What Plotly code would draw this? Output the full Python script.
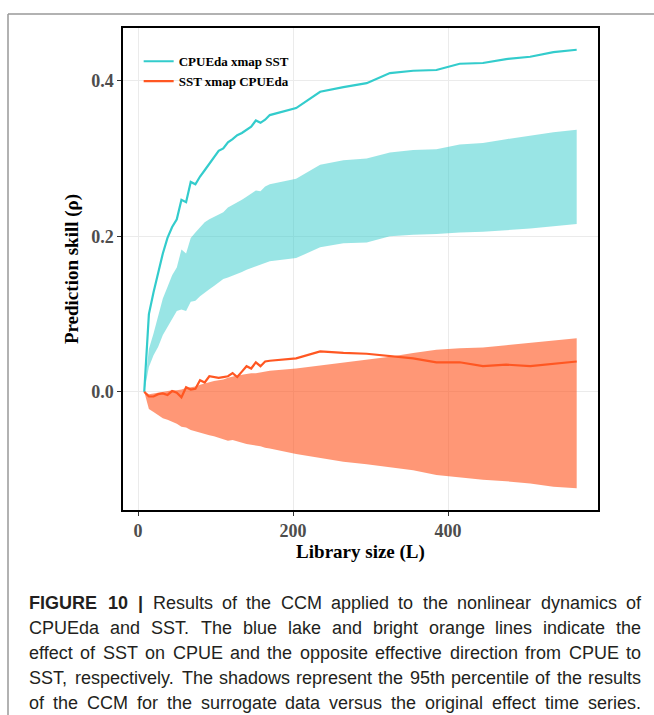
import plotly.graph_objects as go

# Library sizes (L)
lib_size = [8, 14, 20, 26, 32, 38, 44, 50, 56, 62, 68, 74, 80, 86, 92, 98, 104, 110, 116, 122,
            128, 134, 140, 146, 152, 158, 164, 170, 204, 235, 265, 295, 325, 355, 385, 415,
            445, 475, 506, 536, 566]

# CPUEda xmap SST (prediction skill)
cpue_xmap_sst = [0, 0.100, 0.128, 0.152, 0.178, 0.198, 0.212, 0.222, 0.247, 0.244, 0.270, 0.267,
                 0.277, 0.285, 0.293, 0.302, 0.310, 0.313, 0.321, 0.325, 0.330, 0.333, 0.337,
                 0.341, 0.349, 0.346, 0.350, 0.356, 0.365, 0.386, 0.392, 0.397, 0.410, 0.413,
                 0.414, 0.422, 0.423, 0.428, 0.431, 0.437, 0.440]
cpue_upper = [0, 0.055, 0.075, 0.097, 0.120, 0.135, 0.150, 0.160, 0.183, 0.178, 0.198, 0.205,
              0.212, 0.218, 0.222, 0.225, 0.229, 0.231, 0.237, 0.240, 0.244, 0.247, 0.251,
              0.255, 0.259, 0.258, 0.264, 0.267, 0.274, 0.292, 0.298, 0.300, 0.308, 0.311,
              0.312, 0.318, 0.320, 0.325, 0.330, 0.334, 0.337]
cpue_lower = [0, 0.032, 0.047, 0.058, 0.073, 0.084, 0.094, 0.104, 0.106, 0.104, 0.116, 0.117,
              0.123, 0.128, 0.132, 0.136, 0.140, 0.145, 0.147, 0.149, 0.151, 0.154, 0.157,
              0.159, 0.162, 0.164, 0.166, 0.168, 0.172, 0.186, 0.191, 0.192, 0.200, 0.202,
              0.203, 0.205, 0.206, 0.208, 0.210, 0.213, 0.216]

# SST xmap CPUEda
sst_xmap_cpue = [0, -0.006, -0.006, -0.003, -0.002, -0.004, 0.001, -0.001, -0.007, 0.006, 0.003,
                 0.004, 0.015, 0.012, 0.020, 0.019, 0.018, 0.019, 0.020, 0.024, 0.019, 0.026,
                 0.033, 0.030, 0.038, 0.033, 0.039, 0.040, 0.043, 0.052, 0.050, 0.049, 0.046,
                 0.043, 0.038, 0.038, 0.033, 0.035, 0.033, 0.036, 0.039]
sst_upper = [0, -0.003, -0.002, -0.001, 0.000, 0.001, 0.002, 0.002, 0.003, 0.005, 0.006, 0.007,
             0.009, 0.011, 0.013, 0.014, 0.015, 0.016, 0.018, 0.020, 0.021, 0.022, 0.023, 0.024,
             0.024, 0.025, 0.026, 0.027, 0.030, 0.034, 0.038, 0.041, 0.045, 0.050, 0.054,
             0.056, 0.057, 0.060, 0.063, 0.066, 0.069]
sst_lower = [0, -0.022, -0.026, -0.030, -0.034, -0.036, -0.038, -0.041, -0.045, -0.046, -0.049,
             -0.051, -0.053, -0.054, -0.056, -0.057, -0.059, -0.061, -0.063, -0.062, -0.064,
             -0.066, -0.067, -0.068, -0.069, -0.070, -0.072, -0.073, -0.080, -0.085, -0.090,
             -0.093, -0.097, -0.101, -0.107, -0.110, -0.113, -0.115, -0.118, -0.122, -0.124]

x_ticks = [0, 200, 400]
y_ticks = [0.0, 0.2, 0.4]

caption_lines = [
    "FIGURE 10 | Results of the CCM applied to the nonlinear dynamics of",
    "CPUEda and SST. The blue lake and bright orange lines indicate the",
    "effect of SST on CPUE and the opposite effective direction from CPUE to",
    "SST, respectively. The shadows represent the 95th percentile of the results",
    "of the CCM for the surrogate data versus the original effect time series.",
]
bold_words = {"FIGURE", "10", "|"}

CYAN = "#33CCCC"
ORANGE = "#FF5722"

fig = go.Figure()
fig.add_trace(go.Scatter(x=lib_size, y=cpue_lower, mode="lines", line=dict(width=0),
                         showlegend=False, hoverinfo="skip"))
fig.add_trace(go.Scatter(x=lib_size, y=cpue_upper, mode="lines", line=dict(width=0),
                         fill="tonexty", fillcolor="rgba(51,204,204,0.5)",
                         showlegend=False, hoverinfo="skip"))
fig.add_trace(go.Scatter(x=lib_size, y=sst_lower, mode="lines", line=dict(width=0),
                         showlegend=False, hoverinfo="skip"))
fig.add_trace(go.Scatter(x=lib_size, y=sst_upper, mode="lines", line=dict(width=0),
                         fill="tonexty", fillcolor="rgba(255,87,34,0.62)",
                         showlegend=False, hoverinfo="skip"))
fig.add_trace(go.Scatter(x=lib_size, y=cpue_xmap_sst, mode="lines", name="CPUEda xmap SST",
                         line=dict(color=CYAN, width=2.2)))
fig.add_trace(go.Scatter(x=lib_size, y=sst_xmap_cpue, mode="lines", name="SST xmap CPUEda",
                         line=dict(color=ORANGE, width=2.2)))

L, R, T, B = 123, 56, 28, 205
W, H = 654, 715
pw, ph = W - L - R, H - T - B

def px2xp(px):
    return (px - L) / pw

def py2yp(py):
    return (H - B - py) / ph

shapes = [
    dict(type="line", xref="paper", yref="paper", x0=px2xp(8), x1=px2xp(8),
         y0=py2yp(14), y1=py2yp(720), line=dict(color="#999999", width=1.5)),
    dict(type="line", xref="paper", yref="paper", x0=px2xp(8), x1=px2xp(660),
         y0=py2yp(14), y1=py2yp(14), line=dict(color="#999999", width=1.5)),
]

# Arial / Liberation Sans advance widths (per 1000 em) for justification layout
_w = {' ': 278, ',': 278, '.': 278, '|': 260, '(': 333, ')': 333}
for c in "0123456789":
    _w[c] = 556
_w.update(dict(A=667, B=667, C=722, D=722, E=667, F=611, G=778, H=722, I=278, J=500, K=667,
               L=556, M=833, N=722, O=778, P=667, Q=778, R=722, S=667, T=611, U=722, V=667,
               W=944, X=667, Y=667, Z=611))
_w.update(dict(a=556, b=556, c=500, d=556, e=556, f=278, g=556, h=556, i=222, j=222, k=500,
               l=222, m=833, n=556, o=556, p=556, q=556, r=333, s=500, t=278, u=556, v=500,
               w=722, x=500, y=500, z=500))

def text_w(s, size):
    return sum(_w.get(c, 556) for c in s) * size / 1000.0

CAP_SIZE = 18
CAP_LEFT, CAP_RIGHT = 29, 641
annotations = []
cap_y = [603, 628, 653, 678, 703]
for line, yy in zip(caption_lines, cap_y):
    words = line.split(" ")
    widths = [text_w(wd, CAP_SIZE) * (1.03 if wd in bold_words else 1.0) for wd in words]
    gap = (CAP_RIGHT - CAP_LEFT - sum(widths)) / (len(words) - 1)
    xpos = CAP_LEFT
    for wd, ww in zip(words, widths):
        txt = "<b>%s</b>" % wd if wd in bold_words else wd
        annotations.append(dict(text=txt, xref="paper", yref="paper", x=px2xp(xpos),
                                y=py2yp(yy), xanchor="left", yanchor="middle",
                                showarrow=False, borderpad=0, borderwidth=0,
                                font=dict(family="Liberation Sans, Arial, sans-serif",
                                          size=CAP_SIZE, color="#231F20")))
        xpos += ww + gap

fig.update_layout(
    width=W, height=H,
    margin=dict(l=L, r=R, t=T, b=B),
    paper_bgcolor="white", plot_bgcolor="white",
    shapes=shapes, annotations=annotations,
    showlegend=True,
    legend=dict(x=0.033, y=0.962, xanchor="left", yanchor="top", traceorder="normal",
                bgcolor="rgba(0,0,0,0)", borderwidth=0, itemwidth=30, tracegroupgap=2,
                font=dict(family="Liberation Serif, Times New Roman, serif", size=13,
                          color="black", weight="bold")),
    font=dict(family="Liberation Serif, Times New Roman, serif"),
)
fig.update_xaxes(
    range=[-19.4, 593.5], tickvals=x_ticks, ticktext=[str(v) for v in x_ticks],
    showgrid=True, gridcolor="#EBEBEB", gridwidth=1, zeroline=False,
    showline=True, linecolor="black", linewidth=1.5, mirror=True,
    ticks="outside", ticklen=4, tickcolor="#333333", tickwidth=1,
    tickfont=dict(family="Liberation Serif, Times New Roman, serif", size=18,
                  color="#4D4D4D", weight="bold"),
    title=dict(text="<b>Library size (L)</b>", standoff=4,
               font=dict(family="Liberation Serif, Times New Roman, serif", size=19,
                         color="black")),
)
fig.update_yaxes(
    range=[-0.152, 0.468], tickvals=y_ticks, ticktext=["0.0", "0.2", "0.4"],
    showgrid=True, gridcolor="#EBEBEB", gridwidth=1, zeroline=False,
    showline=True, linecolor="black", linewidth=1.5, mirror=True,
    ticks="outside", ticklen=4, tickcolor="#333333", tickwidth=1,
    tickfont=dict(family="Liberation Serif, Times New Roman, serif", size=18,
                  color="#4D4D4D", weight="bold"),
    title=dict(text="<b>Prediction skill (\u03c1)</b>", standoff=8,
               font=dict(family="Liberation Serif, Times New Roman, serif", size=19,
                         color="black")),
)

fig.write_html("out.html")
